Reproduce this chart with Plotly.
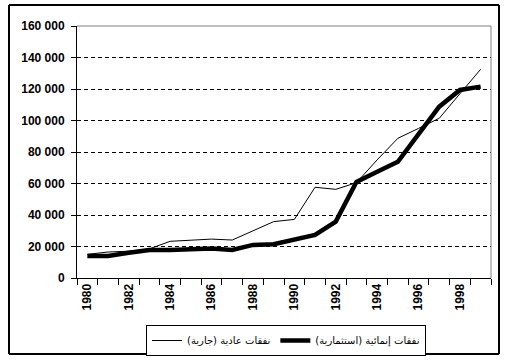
import plotly.graph_objects as go

years = list(range(1980, 2000))
current_exp = [15000, 16500, 17000, 18500, 23300, 23900, 24700, 24100, 29800, 35800,
               37200, 57600, 56300, 60500, 75000, 88700, 95000, 101400, 117000, 132500]
dev_exp = [14000, 14000, 16000, 17800, 17800, 18600, 18800, 17800, 21000, 21400,
           24000, 27300, 35800, 61000, 67500, 73800, 91300, 108800, 119400, 121500]
name_current = "نفقات عادية (جارية)"
name_dev = "نفقات إنمائية (استثمارية)"
x_tick_years = list(range(1980, 2000, 2))
y_tick_vals = [0, 20000, 40000, 60000, 80000, 100000, 120000, 140000, 160000]
y_tick_text = ["0", "20 000", "40 000", "60 000", "80 000", "100 000", "120 000", "140 000", "160 000"]

W, H = 506, 362
L, R, T, B = 77, 15, 26, 84
pw, ph = W - L - R, H - T - B

def px(x):
    return (x - L) / pw

def py(y):
    return (H - B - y) / ph

fig = go.Figure()
fig.add_trace(go.Scatter(x=years, y=current_exp, mode="lines", name=name_current,
                         line=dict(color="black", width=1)))
fig.add_trace(go.Scatter(x=years, y=dev_exp, mode="lines", name=name_dev,
                         line=dict(color="black", width=4.5)))

tickfont = dict(family="Liberation Sans, Arial, sans-serif", size=12, color="black", weight="bold")

frame = dict(color="black", width=2)
fx0, fx1, fy0, fy1 = px(9), px(499), py(354), py(5)

fig.update_layout(
    template="none",
    width=W, height=H,
    margin=dict(l=L, r=R, t=T, b=B, autoexpand=False),
    paper_bgcolor="white", plot_bgcolor="white",
    showlegend=True,
    legend=dict(orientation="h", x=px(146), y=py(325), xanchor="left", yanchor="top",
                bordercolor="black", borderwidth=1, bgcolor="white",
                font=dict(family="DejaVu Sans, Liberation Sans, sans-serif", size=10, color="black"),
                itemwidth=30, tracegroupgap=0),
    xaxis=dict(range=[1979.5, 1999.5], tickmode="array", tickvals=x_tick_years,
               ticktext=[str(y) for y in x_tick_years], tickangle=-90, ticks="",
               automargin=False,
               tickfont=tickfont, showgrid=False, zeroline=False,
               showline=True, linecolor="black", linewidth=1,
               minor=dict(tickvals=[y - 0.5 for y in years] + [years[-1] + 0.5],
                          ticks="outside", ticklen=6, tickcolor="black", tickwidth=1,
                          showgrid=False)),
    yaxis=dict(range=[0, 160000], tickmode="array", tickvals=y_tick_vals, ticktext=y_tick_text,
               ticks="outside", ticklen=5, tickcolor="black", tickwidth=1,
               ticklabelstandoff=4,
               automargin=False,
               tickfont=tickfont, showgrid=True, gridcolor="black", gridwidth=1,
               griddash="4px,3px", zeroline=False,
               showline=True, linecolor="black", linewidth=1),
    shapes=[
        dict(type="line", xref="paper", yref="paper", x0=0, x1=1, y0=1, y1=1,
             line=dict(color="#808080", width=1)),
        dict(type="line", xref="paper", yref="paper", x0=1, x1=1, y0=0, y1=1,
             line=dict(color="#808080", width=1)),
        dict(type="line", xref="paper", yref="paper", x0=fx0, x1=fx1, y0=fy1, y1=fy1, line=frame),
        dict(type="line", xref="paper", yref="paper", x0=fx0, x1=fx1, y0=fy0, y1=fy0, line=frame),
        dict(type="line", xref="paper", yref="paper", x0=fx0, x1=fx0, y0=fy0, y1=fy1, line=frame),
        dict(type="line", xref="paper", yref="paper", x0=fx1, x1=fx1, y0=fy0, y1=fy1, line=frame),
    ],
)

fig.write_html("out.html", config={"displayModeBar": False},
               post_script="document.body.style.margin='0';document.body.style.overflow='hidden';")
